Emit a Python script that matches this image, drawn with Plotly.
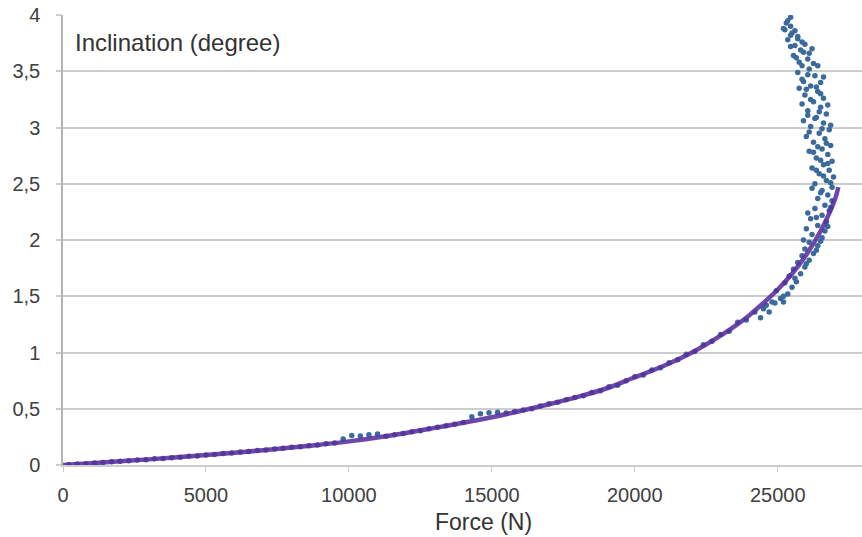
import plotly.graph_objects as go

# Theoretical inclination curve (force in N, inclination in degrees)
force_theory = [0, 1000, 2000, 3000, 4000, 5000, 6000, 7000, 8000, 9000, 10000,
                11000, 12000, 13000, 14000, 15000, 16000, 17000, 18000, 19000,
                20000, 21000, 22000, 23000, 23500, 24000, 24500, 25000, 25500,
                26000, 26500, 27000, 27120]
incl_theory = [0, 0.016, 0.033, 0.05, 0.068, 0.088, 0.109, 0.131, 0.155, 0.181, 0.21,
               0.245, 0.285, 0.33, 0.375, 0.425, 0.48, 0.54, 0.605, 0.68,
               0.78, 0.88, 1.0, 1.15, 1.235, 1.33, 1.44, 1.56, 1.70,
               1.87, 2.08, 2.36, 2.47]

# Measured points, loading phase
force_load = [200, 500, 800, 1100, 1400, 1700, 2000, 2300, 2600, 2900, 3200, 3500,
              3800, 4100, 4400, 4700, 5000, 5300, 5600, 5900, 6200, 6500, 6800,
              7100, 7400, 7700, 8000, 8300, 8600, 8900, 9200, 9500, 9800, 10100,
              10400, 10700, 11000, 11300, 11600, 11900, 12200, 12500, 12800, 13100,
              13400, 13700, 14000, 14300, 14600, 14900, 15200, 15500, 15800, 16100,
              16400, 16700, 17000, 17300, 17600, 17900, 18200, 18500, 18800, 19100,
              19400, 19700, 20000, 20300, 20600, 20900, 21200, 21500, 21800, 22100,
              22400, 22700, 23000, 23300, 23600, 23900, 24200, 24400, 24500, 24600,
              24700, 24800, 24900, 25200]
incl_load = [0.002, 0.008, 0.012, 0.018, 0.022, 0.029, 0.034, 0.037, 0.044, 0.047,
             0.055, 0.058, 0.065, 0.069, 0.077, 0.081, 0.090, 0.094, 0.102, 0.106,
             0.115, 0.119, 0.128, 0.133, 0.142, 0.148, 0.157, 0.162, 0.172, 0.178,
             0.188, 0.195, 0.232, 0.262, 0.258, 0.27, 0.275, 0.256, 0.27, 0.28,
             0.295, 0.305, 0.322, 0.335, 0.35, 0.362, 0.378, 0.43, 0.455, 0.465,
             0.47, 0.462, 0.475, 0.49, 0.50, 0.525, 0.545, 0.558, 0.58, 0.60,
             0.615, 0.645, 0.66, 0.695, 0.71, 0.75, 0.785, 0.80, 0.845, 0.865,
             0.91, 0.935, 0.985, 1.01, 1.07, 1.10, 1.16, 1.19, 1.27, 1.29,
             1.36, 1.31, 1.39, 1.42, 1.36, 1.45, 1.44, 1.45]

# Measured points, post-buckling phase
force_post = [25100, 25350, 24950, 25500, 25250, 25650, 25400, 25800, 25550, 25950,
              25700, 26100, 25850, 26250, 25950, 26400, 26100, 26550, 26200, 26650,
              26000, 26400, 26700, 26150, 26550, 26800, 26300, 26650, 26900, 26400,
              26750, 26550, 26900, 26300, 26700, 26950, 26450, 26800, 26200, 26600,
              26900, 26350, 26750, 26100, 26550, 26850, 26250, 26650, 26000, 26450,
              26800, 26150, 26600, 25900, 26350, 26700, 26050, 26500, 25850, 26250,
              26600, 25950, 26400, 25750, 26150, 26500, 25850, 26300, 25700, 26100,
              26400, 25750, 26050, 25550, 25900, 26200, 25600, 25850, 25350, 25700,
              25500, 25250, 25450, 25300, 25450,
              25200, 25600, 26000, 26350, 26500, 25900, 26750, 26350, 26050, 26850,
              26500, 26200, 26850, 26600, 26350, 26750, 26500, 26250, 26700, 26400,
              26100, 26550, 26850, 26300, 26050, 26450, 26750, 26150, 26500, 26000,
              26350, 25900, 26600, 26050, 25850, 26250, 25650, 26100, 25800, 25450,
              25950, 25700, 25450, 25600, 25200, 25350]
incl_post = [1.48, 1.52, 1.55, 1.58, 1.62, 1.63, 1.68, 1.70, 1.74, 1.76,
             1.80, 1.82, 1.86, 1.88, 1.92, 1.95, 1.98, 2.02, 2.05, 2.08,
             2.10, 2.13, 2.16, 2.19, 2.22, 2.26, 2.28, 2.31, 2.35, 2.37,
             2.40, 2.44, 2.47, 2.50, 2.53, 2.56, 2.59, 2.62, 2.64, 2.67,
             2.70, 2.73, 2.76, 2.79, 2.81, 2.84, 2.87, 2.90, 2.92, 2.95,
             2.98, 3.01, 3.04, 3.06, 3.09, 3.12, 3.15, 3.18, 3.21, 3.23,
             3.26, 3.29, 3.32, 3.35, 3.37, 3.40, 3.43, 3.46, 3.49, 3.52,
             3.55, 3.58, 3.61, 3.64, 3.67, 3.70, 3.73, 3.76, 3.78, 3.81,
             3.84, 3.87, 3.90, 3.93, 3.98,
             1.50, 1.66, 1.79, 1.91, 1.99, 2.00, 2.12, 2.20, 2.24, 2.29,
             2.42, 2.46, 2.51, 2.57, 2.62, 2.68, 2.71, 2.78, 2.86, 2.83,
             2.96, 2.99, 3.02, 3.08, 3.11, 3.14, 3.20, 3.25, 3.30, 3.34,
             3.36, 3.41, 3.45, 3.47, 3.55, 3.57, 3.62, 3.66, 3.69, 3.72,
             3.74, 3.79, 3.82, 3.86, 3.88, 3.95]

x_tick_vals = [0, 5000, 10000, 15000, 20000, 25000]
x_tick_text = ["0", "5000", "10000", "15000", "20000", "25000"]
y_tick_vals = [0, 0.5, 1, 1.5, 2, 2.5, 3, 3.5, 4]
y_tick_text = ["0", "0,5", "1", "1,5", "2", "2,5", "3", "3,5", "4"]

FONT = "Liberation Sans, Arial, sans-serif"
GRID = "#cdcdcd"

fig = go.Figure()
fig.add_trace(go.Scatter(
    x=force_load + force_post, y=incl_load + incl_post,
    mode="markers",
    marker=dict(size=5.5, color="#3b6a9c"),
    showlegend=False,
))
fig.add_trace(go.Scatter(
    x=force_theory, y=incl_theory,
    mode="lines",
    line=dict(color="#5a2e9f", width=4.5, shape="spline"),
    opacity=0.88,
    showlegend=False,
))

fig.update_layout(
    width=862, height=537,
    margin=dict(l=63, r=0, t=15, b=72),
    paper_bgcolor="white", plot_bgcolor="white",
    font=dict(family=FONT, color="#404040"),
    xaxis=dict(
        range=[0, 27947],
        tickvals=x_tick_vals, ticktext=x_tick_text,
        showgrid=False, zeroline=False,
        showline=True, linecolor=GRID, linewidth=1.5,
        ticks="outside", ticklen=5, tickcolor=GRID, tickwidth=1,
        tickfont=dict(size=20, color="#404040"),
        ticklabelstandoff=6,
    ),
    yaxis=dict(
        range=[0, 4],
        tickvals=y_tick_vals, ticktext=y_tick_text,
        showgrid=True, gridcolor=GRID, gridwidth=1.5,
        zeroline=False,
        showline=True, linecolor="#b4b4b4", linewidth=1.5,
        ticks="outside", ticklen=5, tickcolor=GRID, tickwidth=1.5,
        tickfont=dict(size=20, color="#404040"),
        ticklabelstandoff=12,
    ),
    annotations=[
        dict(text="Inclination (degree)", xref="paper", yref="paper",
             x=0.0125, y=0.94, xanchor="left", yanchor="middle",
             showarrow=False, font=dict(size=24, color="#333333", family=FONT)),
        dict(text="Force (N)", xref="paper", yref="paper",
             x=0.5257, y=-0.127, xanchor="center", yanchor="middle",
             showarrow=False, font=dict(size=23, color="#333333", family=FONT)),
    ],
)

fig.write_html("out.html")
